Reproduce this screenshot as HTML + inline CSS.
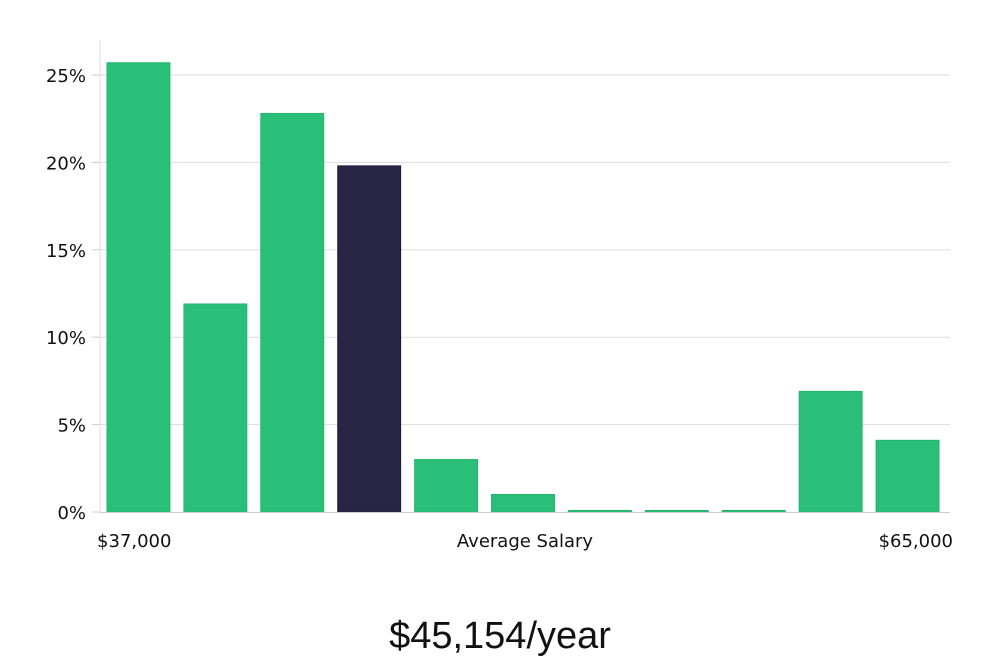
<!DOCTYPE html>
<html><head><meta charset="utf-8"><style>
html,body{margin:0;padding:0;background:#fff;}
svg text{font-family:"DejaVu Sans","Liberation Sans",sans-serif;}
</style></head><body>
<svg id="chart" width="1000" height="660" viewBox="0 0 1000 660" xmlns="http://www.w3.org/2000/svg">
<g id="grid"></g>
<g id="bars"></g>
<g id="yaxis"></g>
<text x="97" y="547" font-size="18" fill="#111">$37,000</text>
<text x="525" y="547" font-size="18" fill="#111" text-anchor="middle">Average Salary</text>
<text x="953" y="547" font-size="18" fill="#111" text-anchor="end">$65,000</text>
<text x="500" y="648" font-size="38" fill="#111" text-anchor="middle" style="font-family:'Liberation Sans',sans-serif;font-weight:300">$45,154/year</text>
</svg>
<script>
const values = [25.7, 11.9, 22.8, 19.8, 3.0, 1.0, 0.05, 0.05, 0.05, 6.9, 4.1];
const highlightIndex = 3;
const yTicks = [0, 5, 10, 15, 20, 25];
const yTickLabels = ["0%", "5%", "10%", "15%", "20%", "25%"];

const NS = "http://www.w3.org/2000/svg";
const plotL = 100, plotR = 950, y0 = 512, yTop = 40;
const pxPerUnit = (512 - 75) / 25;
function y(v){ return y0 - v * pxPerUnit; }
const band = (plotR - plotL - 4) / values.length;
function x(i){ return plotL + 7 + i * band; }
const barW = band - 14;

const grid = document.getElementById('grid');
const yaxis = document.getElementById('yaxis');
const bars = document.getElementById('bars');

yTicks.forEach((t, i) => {
  if (t > 0) {
    const l = document.createElementNS(NS, 'line');
    
    
    l.setAttribute('x1', plotL); l.setAttribute('x2', plotR);
    l.setAttribute('y1', y(t)); l.setAttribute('y2', y(t));
    l.setAttribute('stroke', '#dddddd'); l.setAttribute('stroke-width', '1');
    grid.appendChild(l);
  }
  const tk = document.createElementNS(NS, 'line');
  
  
  tk.setAttribute('x1', plotL - 8); tk.setAttribute('x2', plotL);
  tk.setAttribute('y1', y(t)); tk.setAttribute('y2', y(t));
  tk.setAttribute('stroke', '#cccccc');
  yaxis.appendChild(tk);
  const tx = document.createElementNS(NS, 'text');
  
  
  tx.setAttribute('x', plotL - 14); tx.setAttribute('y', y(t) + 7);
  tx.setAttribute('text-anchor', 'end'); tx.setAttribute('font-size', '18');
  tx.setAttribute('fill', '#111');
  tx.textContent = yTickLabels[i];
  yaxis.appendChild(tx);
});

const ax = document.createElementNS(NS, 'line');


ax.setAttribute('x1', plotL); ax.setAttribute('x2', plotL);
ax.setAttribute('y1', yTop); ax.setAttribute('y2', y0);
ax.setAttribute('stroke', '#dddddd');
yaxis.appendChild(ax);
const bx = document.createElementNS(NS, 'line');


bx.setAttribute('x1', plotL); bx.setAttribute('x2', plotR);
bx.setAttribute('y1', y0 + 0.5); bx.setAttribute('y2', y0 + 0.5);
bx.setAttribute('stroke', '#cccccc');
yaxis.appendChild(bx);

values.forEach((v, i) => {
  const r = document.createElementNS(NS, 'rect');
  
  
  const h = Math.max(y0 - y(v), 1.5);
  r.setAttribute('x', x(i)); r.setAttribute('y', y0 - h);
  r.setAttribute('width', barW); r.setAttribute('height', h);
  const hi = i === highlightIndex;
  r.setAttribute('fill', hi ? '#282545' : '#2abf78');
  r.setAttribute('stroke', hi ? '#1e1b3a' : '#22b46c');
  r.setAttribute('stroke-width', '1');
  bars.appendChild(r);
});
</script>
</body></html>
